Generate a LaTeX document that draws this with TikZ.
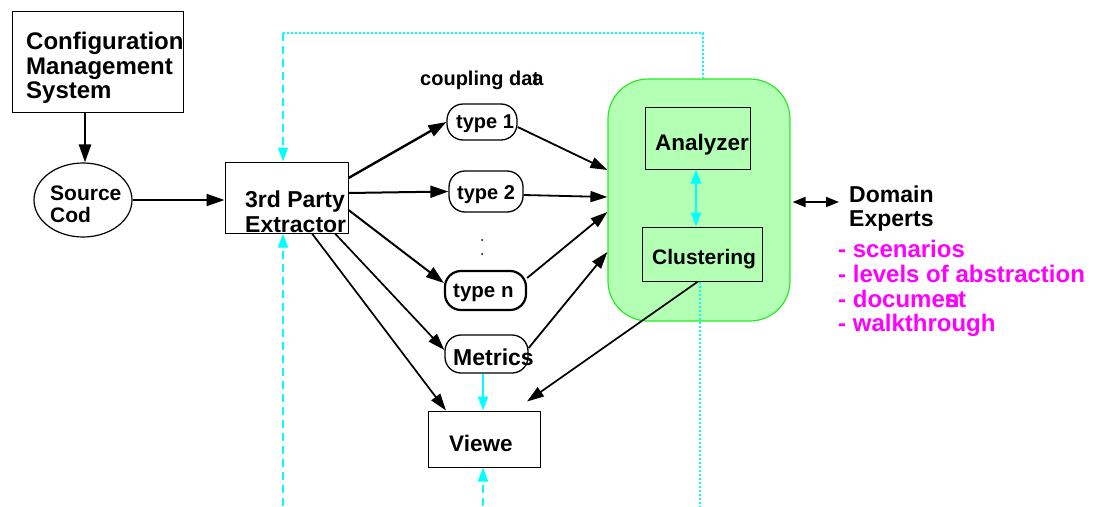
\documentclass[tikz,border=0pt]{standalone}
\usepackage{fontspec}
\setmainfont{Liberation Sans}
\usetikzlibrary{arrows.meta,shapes.geometric}
\definecolor{cy}{RGB}{0,255,255}
\definecolor{gfill}{RGB}{179,255,179}
\definecolor{gline}{RGB}{40,235,40}
\definecolor{mag}{RGB}{255,0,255}
\begin{document}
\begin{tikzpicture}[x=1pt,y=-1pt,
  box/.style={draw,line width=1pt,inner sep=0pt},
  pill/.style={draw,line width=1.3pt,rounded corners=16pt,inner sep=0pt},
  txt/.style={font=\bfseries\fontsize{#1}{#1}\selectfont,inner sep=0pt,anchor=base west},
  arrthick/.style={-{Triangle[length=18pt,width=12pt]},line width=2.4pt},
  arrthin/.style={-{Triangle[length=17pt,width=11pt]},line width=1.7pt},
  carr/.style={cy,-{Triangle[length=14pt,width=10pt]},line width=1.8pt},
  cdash/.style={cy,line width=1.5pt,dash pattern=on 8pt off 5pt},
  cdot/.style={cy,line width=1.2pt,dash pattern=on 2pt off 2pt},
]
\useasboundingbox (0,0) rectangle (1099,506);

% green container
\node[draw=gline,fill=gfill,line width=1.2pt,rounded corners=40pt,minimum width=182pt,minimum height=242pt,inner sep=0pt] (gr) at (699,200) {};

% boxes
\node[box,minimum width=171pt,minimum height=101pt] (cfg) at (97.5,61.5) {};
\node[draw,ellipse,line width=1.2pt,minimum width=98pt,minimum height=74pt,inner sep=0pt] (src) at (83,200) {};
\node[box,minimum width=123pt,minimum height=71pt] (ext) at (286.5,197.5) {};
\node[pill,minimum width=70pt,minimum height=36pt] (t1) at (482,122) {};
\node[pill,minimum width=74pt,minimum height=41pt] (t2) at (486,191.5) {};
\node[pill,line width=2.2pt,minimum width=81pt,minimum height=39pt] (tn) at (485.5,290.5) {};
\node[pill,minimum width=83pt,minimum height=38pt] (met) at (486.5,354) {};
\node[box,minimum width=105pt,minimum height=62pt] (an) at (697.5,138) {};
\node[box,minimum width=120pt,minimum height=54pt] (cl) at (702,254) {};
\node[box,minimum width=112pt,minimum height=56pt] (vw) at (484,439) {};

% dots
\fill (482,240) circle (1pt) coordinate (d1);
\fill (482,254) circle (1pt) coordinate (d2);

% texts
\node[txt=24] (cfg1) at (26,49) {Configuration};
\node[txt=24] (cfg2) at (26,74) {Management};
\node[txt=24] (cfg3) at (26,98) {System};
\node[txt=21] (src1) at (50,200) {Source};
\node[txt=21] (src2) at (50,222) {Cod};
\node[txt=23] (ext1) at (245,207) {3rd Party};
\node[txt=23] (ext2) at (245,232) {Extractor};
\node[txt=20] (cpl) at (420,85) {coupling da\rlap{t}a};
\node[txt=20] (t1t) at (456,128) {type 1};
\node[txt=20] (t2t) at (457,199) {type 2};
\node[txt=20.5] (tnt) at (453,297) {type n};
\node[txt=23] (mett) at (453,365) {Metrics};
\node[txt=22.5] (ant) at (655,150) {Analyzer};
\node[txt=21] (clt) at (652,264) {Clustering};
\node[txt=22.5] (vwt) at (449,451) {Viewe};
\node[txt=23] (dom1) at (849,202) {Domain};
\node[txt=23] (dom2) at (849,226) {Experts};
\node[txt=24,text=mag] (l1) at (838,257) {- scenarios};
\node[txt=24,text=mag] (l2) at (838,282) {- levels of abstraction};
\node[txt=24,text=mag] (l3) at (838,307) {- docume\rlap{n}st};
\node[txt=24,text=mag] (l4) at (838,331) {- walkthrough};

% black connectors
\draw[arrthick] ([xshift=-12.5pt]cfg.south) -- ([xshift=2pt]src.north);
\draw[arrthick,line width=2pt] (src.east) -- (ext.west |- src.east);
\draw[arrthick] ([yshift=19.5pt]ext.east) -- (t1.west);
\draw[arrthick,line width=2pt] ([yshift=4.5pt]ext.east) -- (t2.west);
\draw[arrthick,line width=2pt] ([yshift=-12.5pt]ext.east) -- ([yshift=7.5pt]tn.west);
\draw[arrthin] ([xshift=48.5pt]ext.south) -- ([yshift=4pt]met.west);
\draw[arrthin] ([xshift=25.5pt]ext.south) -- ([xshift=-38pt]vw.north);
\draw[arrthin,line width=1.8pt] ([yshift=-5pt]t1.east) -- ([yshift=30pt]gr.west);
\draw[arrthin,line width=1.8pt] ([yshift=-3.5pt]t2.east) -- ([yshift=3pt]gr.west);
\draw[arrthin,line width=1.8pt] ([yshift=12.5pt]tn.east) -- ([yshift=-12pt]gr.west);
\draw[arrthin,line width=1.8pt] ([yshift=6pt]met.east) -- ([yshift=-52pt]gr.west);
\draw[arrthin] ([xshift=-4pt]cl.south) -- ([xshift=43pt,yshift=9pt]vw.north);
\coordinate (de) at (839,202);
\draw[{Triangle[length=13pt,width=10pt]}-{Triangle[length=13pt,width=10pt]},line width=2pt] ([xshift=2pt,yshift=-2pt]gr.east) -- (de);

% cyan connectors
\coordinate (tl) at (283,33);
\coordinate (tr) at (703,33);
\coordinate (bl) at (283,506);
\coordinate (br) at (700,506);
\coordinate (bv) at (483,506);
\draw[cdash,-{Triangle[length=14pt,width=10pt]}] (tl) -- (tl |- ext.north);
\draw[cdash,-{Triangle[length=14pt,width=10pt]}] (bl) -- (bl |- ext.south);
\draw[cdot] (tl) -- (tr) -- (tr |- gr.north);
\draw[cdot] (br |- cl.south) -- (br);
\draw[cdash,-{Triangle[length=14pt,width=10pt]}] (bv) -- (bv |- vw.south);
\draw[carr] (met.south -| bv) -- (vw.north -| bv);
\draw[cy,line width=2pt,{Triangle[length=14pt,width=10pt]}-{Triangle[length=14pt,width=10pt]}] ([xshift=-1.5pt]an.south) -- ([xshift=-1.5pt]an.south |- cl.north);
\end{tikzpicture}
\end{document}
